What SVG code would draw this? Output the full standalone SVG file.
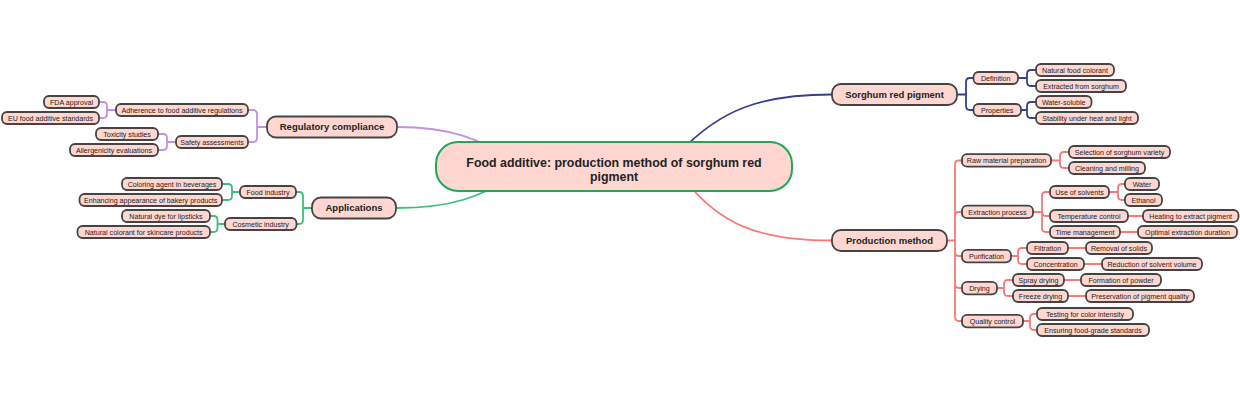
<svg xmlns="http://www.w3.org/2000/svg" width="1240" height="400" viewBox="0 0 1240 400">
<style>
.n{fill:#FFD6D0;stroke:#444;stroke-width:1.8}
.root{fill:#FFD6D0;stroke:#1DAA57;stroke-width:2}
text{font-family:"Liberation Sans",Arial,sans-serif;fill:#222;text-anchor:middle}
.t{font-size:7.1px}
.b{font-size:9.5px;font-weight:bold}
.c{font-size:12.4px;font-weight:bold}
.k{fill:none;stroke-width:1.8;stroke-linecap:round}
.cp{stroke:#C490E4}
.cg{stroke:#3DBE7B}
.cn{stroke:#3A3E8F}
.cr{stroke:#F47A78}
</style>
<rect width="1240" height="400" fill="#fff"/>
<g id="connectors">
<path class="k cp" d="M397,127C450,127 480,138 520,165"/>
<path class="k cg" d="M397,208C450,208 480,198 520,172"/>
<path class="k cn" d="M832,94.5C760,94.5 720,110 680,152"/>
<path class="k cr" d="M832,240.5C760,240.5 720,225 685,180"/>
<path class="k cp" d="M267,127H257V114Q257,110 253,110H248M257,127V138Q257,142 253,142H248"/>
<path class="k cp" d="M116,110H107V106Q107,102 103,102H99M107,110V114Q107,118 103,118H99"/>
<path class="k cp" d="M176,142H167V138Q167,134 163,134H158M167,142V146Q167,150 163,150H158"/>
<path class="k cg" d="M312,208H303V196Q303,192 299,192H296M303,208V220Q303,224 299,224H296"/>
<path class="k cg" d="M240,192H232V188Q232,184 228,184H222M232,192V196Q232,200 228,200H222"/>
<path class="k cg" d="M225,224H217.5V220Q217.5,216 213.5,216H210M217.5,224V228Q217.5,232 213.5,232H210"/>
<path class="k cn" d="M957,94.5H966V82Q966,78 970,78H973.5M966,94.5V106Q966,110 970,110H973.5"/>
<path class="k cn" d="M1018,78H1027V74Q1027,70 1031,70H1036M1027,78V82Q1027,86 1031,86H1036"/>
<path class="k cn" d="M1021,110H1027V106Q1027,102 1031,102H1036M1027,110V114Q1027,118 1031,118H1036"/>
<path class="k cr" d="M947,240.5H955M955,240.5V164.5Q955,160.5 959,160.5H962M955,240.5V216Q955,212 959,212H962M955,240.5V252Q955,256 959,256H962M955,240.5V284Q955,288 959,288H962M955,240.5V317Q955,321 959,321H962"/>
<path class="k cr" d="M1051,160.5H1060V156Q1060,152 1064,152H1069M1060,160.5V164Q1060,168 1064,168H1069"/>
<path class="k cr" d="M1033,212H1042V196Q1042,192 1046,192H1050M1042,212Q1042,216 1046,216H1050M1042,212V228Q1042,232 1046,232H1050"/>
<path class="k cr" d="M1109,192H1118V188Q1118,184 1122,184H1125M1118,192V196Q1118,200 1122,200H1125"/>
<path class="k cr" d="M1128,216H1143M1120,232H1138"/>
<path class="k cr" d="M1011,256H1018V252Q1018,248 1022,248H1027M1018,256V260Q1018,264 1022,264H1027"/>
<path class="k cr" d="M1068,248H1086M1084,264H1102"/>
<path class="k cr" d="M997,288H1004V284Q1004,280 1008,280H1013M1004,288V292Q1004,296 1008,296H1013"/>
<path class="k cr" d="M1064,280H1081M1068,296H1086"/>
<path class="k cr" d="M1023,321H1030V318Q1030,314 1034,314H1037M1030,321V326Q1030,330 1034,330H1037"/>
</g>
<g id="root"><rect class="root" x="436" y="142" width="356" height="49" rx="22"/><text class="c" x="614" y="166.5">Food additive: production method of sorghum red</text><text class="c" x="614" y="180.5">pigment</text></g>
<g id="regulatory"><rect class="n" x="267" y="116.5" width="130" height="21" rx="9"/><text class="b" x="332" y="130.4">Regulatory compliance</text></g>
<g id="adherence"><rect class="n" x="116" y="104" width="132" height="12" rx="5"/><text class="t" x="182" y="112.5">Adherence to food additive regulations</text></g>
<g id="safety"><rect class="n" x="176" y="136" width="72" height="12" rx="5"/><text class="t" x="212" y="144.5">Safety assessments</text></g>
<g id="fda"><rect class="n" x="44" y="96" width="55" height="12" rx="5"/><text class="t" x="71.5" y="104.5">FDA approval</text></g>
<g id="eu"><rect class="n" x="2" y="112" width="97" height="12" rx="5"/><text class="t" x="50.5" y="120.5">EU food additive standards</text></g>
<g id="toxicity"><rect class="n" x="96" y="128" width="62" height="12" rx="5"/><text class="t" x="127" y="136.5">Toxicity studies</text></g>
<g id="allergen"><rect class="n" x="70" y="144" width="88" height="12" rx="5"/><text class="t" x="114" y="152.5">Allergenicity evaluations</text></g>
<g id="applications"><rect class="n" x="312" y="197.5" width="84" height="21" rx="9"/><text class="b" x="354" y="211.4">Applications</text></g>
<g id="food"><rect class="n" x="240" y="186" width="56" height="12" rx="5"/><text class="t" x="268" y="194.5">Food industry</text></g>
<g id="cosmetic"><rect class="n" x="225" y="218" width="71.5" height="12" rx="5"/><text class="t" x="260.7" y="226.5">Cosmetic industry</text></g>
<g id="coloring"><rect class="n" x="122" y="178" width="100" height="12" rx="5"/><text class="t" x="172" y="186.5">Coloring agent in beverages</text></g>
<g id="bakery"><rect class="n" x="79.5" y="194" width="142.5" height="12" rx="5"/><text class="t" x="150.7" y="202.5">Enhancing appearance of bakery products</text></g>
<g id="lipsticks"><rect class="n" x="122" y="210" width="88" height="12" rx="5"/><text class="t" x="166" y="218.5">Natural dye for lipsticks</text></g>
<g id="skincare"><rect class="n" x="77.5" y="226" width="132.5" height="12" rx="5"/><text class="t" x="143.7" y="234.5">Natural colorant for skincare products</text></g>
<g id="sorghum"><rect class="n" x="832" y="84" width="125" height="21" rx="9"/><text class="b" x="894.5" y="97.9">Sorghum red pigment</text></g>
<g id="definition"><rect class="n" x="973.5" y="72" width="44.5" height="12" rx="5"/><text class="t" x="995.7" y="80.5">Definition</text></g>
<g id="properties"><rect class="n" x="973.5" y="104" width="47.5" height="12" rx="5"/><text class="t" x="997.2" y="112.5">Properties</text></g>
<g id="colorant"><rect class="n" x="1036" y="64" width="78" height="12" rx="5"/><text class="t" x="1075" y="72.5">Natural food colorant</text></g>
<g id="extracted"><rect class="n" x="1036" y="80" width="90" height="12" rx="5"/><text class="t" x="1081" y="88.5">Extracted from sorghum</text></g>
<g id="water-soluble"><rect class="n" x="1036" y="96" width="55.5" height="12" rx="5"/><text class="t" x="1063.7" y="104.5">Water-soluble</text></g>
<g id="stability"><rect class="n" x="1036" y="112" width="102" height="12" rx="5"/><text class="t" x="1087" y="120.5">Stability under heat and light</text></g>
<g id="production"><rect class="n" x="832" y="230" width="115" height="21" rx="9"/><text class="b" x="889.5" y="243.9">Production method</text></g>
<g id="raw"><rect class="n" x="962" y="154.2" width="89" height="12.5" rx="5"/><text class="t" x="1006.5" y="163">Raw material preparation</text></g>
<g id="selection"><rect class="n" x="1069" y="146" width="101" height="12" rx="5"/><text class="t" x="1119.5" y="154.5">Selection of sorghum variety</text></g>
<g id="cleaning"><rect class="n" x="1069" y="162" width="76" height="12" rx="5"/><text class="t" x="1107" y="170.5">Cleaning and milling</text></g>
<g id="extraction"><rect class="n" x="962" y="205.7" width="71" height="12.5" rx="5"/><text class="t" x="997.5" y="214.5">Extraction process</text></g>
<g id="solvents"><rect class="n" x="1050" y="186" width="59" height="12" rx="5"/><text class="t" x="1079.5" y="194.5">Use of solvents</text></g>
<g id="water"><rect class="n" x="1125" y="178" width="34" height="12" rx="5"/><text class="t" x="1142" y="186.5">Water</text></g>
<g id="ethanol"><rect class="n" x="1125" y="194" width="37" height="12" rx="5"/><text class="t" x="1143.5" y="202.5">Ethanol</text></g>
<g id="temperature"><rect class="n" x="1050" y="210" width="78" height="12" rx="5"/><text class="t" x="1089" y="218.5">Temperature control</text></g>
<g id="heating"><rect class="n" x="1143" y="210" width="95.5" height="12" rx="5"/><text class="t" x="1190.7" y="218.5">Heating to extract pigment</text></g>
<g id="time"><rect class="n" x="1050" y="226" width="70" height="12" rx="5"/><text class="t" x="1085" y="234.5">Time management</text></g>
<g id="optimal"><rect class="n" x="1138" y="226" width="99" height="12" rx="5"/><text class="t" x="1187.5" y="234.5">Optimal extraction duration</text></g>
<g id="purification"><rect class="n" x="962" y="249.8" width="49" height="12.5" rx="5"/><text class="t" x="986.5" y="258.5">Purification</text></g>
<g id="filtration"><rect class="n" x="1027" y="242" width="41" height="12" rx="5"/><text class="t" x="1047.5" y="250.5">Filtration</text></g>
<g id="removal"><rect class="n" x="1086" y="242" width="66" height="12" rx="5"/><text class="t" x="1119" y="250.5">Removal of solids</text></g>
<g id="concentration"><rect class="n" x="1027" y="258" width="57" height="12" rx="5"/><text class="t" x="1055.5" y="266.5">Concentration</text></g>
<g id="reduction"><rect class="n" x="1102" y="258" width="100" height="12" rx="5"/><text class="t" x="1152" y="266.5">Reduction of solvent volume</text></g>
<g id="drying"><rect class="n" x="962" y="281.8" width="35" height="12.5" rx="5"/><text class="t" x="979.5" y="290.5">Drying</text></g>
<g id="spray"><rect class="n" x="1013" y="274" width="51" height="12" rx="5"/><text class="t" x="1038.5" y="282.5">Spray drying</text></g>
<g id="powder"><rect class="n" x="1081" y="274" width="80" height="12" rx="5"/><text class="t" x="1121" y="282.5">Formation of powder</text></g>
<g id="freeze"><rect class="n" x="1013" y="290" width="55" height="12" rx="5"/><text class="t" x="1040.5" y="298.5">Freeze drying</text></g>
<g id="preservation"><rect class="n" x="1086" y="290" width="108" height="12" rx="5"/><text class="t" x="1140" y="298.5">Preservation of pigment quality</text></g>
<g id="quality"><rect class="n" x="962" y="314.8" width="61" height="12.5" rx="5"/><text class="t" x="992.5" y="323.5">Quality control</text></g>
<g id="testing"><rect class="n" x="1037" y="308" width="96" height="12" rx="5"/><text class="t" x="1085" y="316.5">Testing for color intensity</text></g>
<g id="ensuring"><rect class="n" x="1037" y="324" width="112" height="12" rx="5"/><text class="t" x="1093" y="332.5">Ensuring food-grade standards</text></g>
</svg>
